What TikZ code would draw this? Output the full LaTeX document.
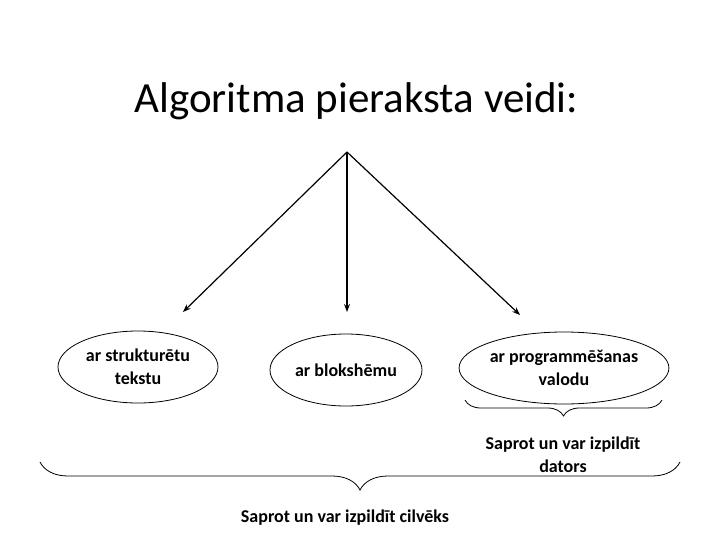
\documentclass[tikz,border=0pt]{standalone}
\usepackage{fontspec}
\setmainfont{Carlito}
\usetikzlibrary{shapes.geometric,decorations.pathreplacing,arrows.meta}
\begin{document}
\begin{tikzpicture}[x=1pt,y=-1pt,
  oval/.style={draw,ellipse,line width=0.8pt,minimum width=#1,minimum height=72pt,inner sep=0pt,align=center,font=\bfseries\fontsize{18}{23}\selectfont},
  arr/.style={-{Stealth[length=8pt,width=6pt]},line width=1.2pt},
  brc/.style={decorate,decoration={brace,mirror,amplitude=#1},line width=0.8pt},
  lbl/.style={align=center,font=\bfseries\fontsize{18}{23}\selectfont}]
\useasboundingbox (0,0) rectangle (728,546);
\node[anchor=base west,font=\fontsize{43}{48}\selectfont] (title) at (131,112) {Algoritma pieraksta veidi:};
\coordinate (apex) at (347,152);
\node[oval=160pt] (a) at (138,367) {ar strukturētu\\tekstu};
\node[oval=152pt] (b) at (346,370) {ar blokshēmu};
\node[oval=176pt] (c) at (564,368) {ar programmēšanas\\valodu};
\draw[arr] (apex) -- (183,312);
\draw[arr] (apex) -- (347,312);
\draw[arr] (apex) -- (520,315);
\draw[brc=16pt] (465,400) -- (662,400);
\node[lbl] (d) at (563,455) {Saprot un var izpildīt\\dators};
\draw[brc=28pt] (40,462) -- (680,462);
\node[lbl] (e) at (345,518) {Saprot un var izpildīt cilvēks};
\end{tikzpicture}
\end{document}
